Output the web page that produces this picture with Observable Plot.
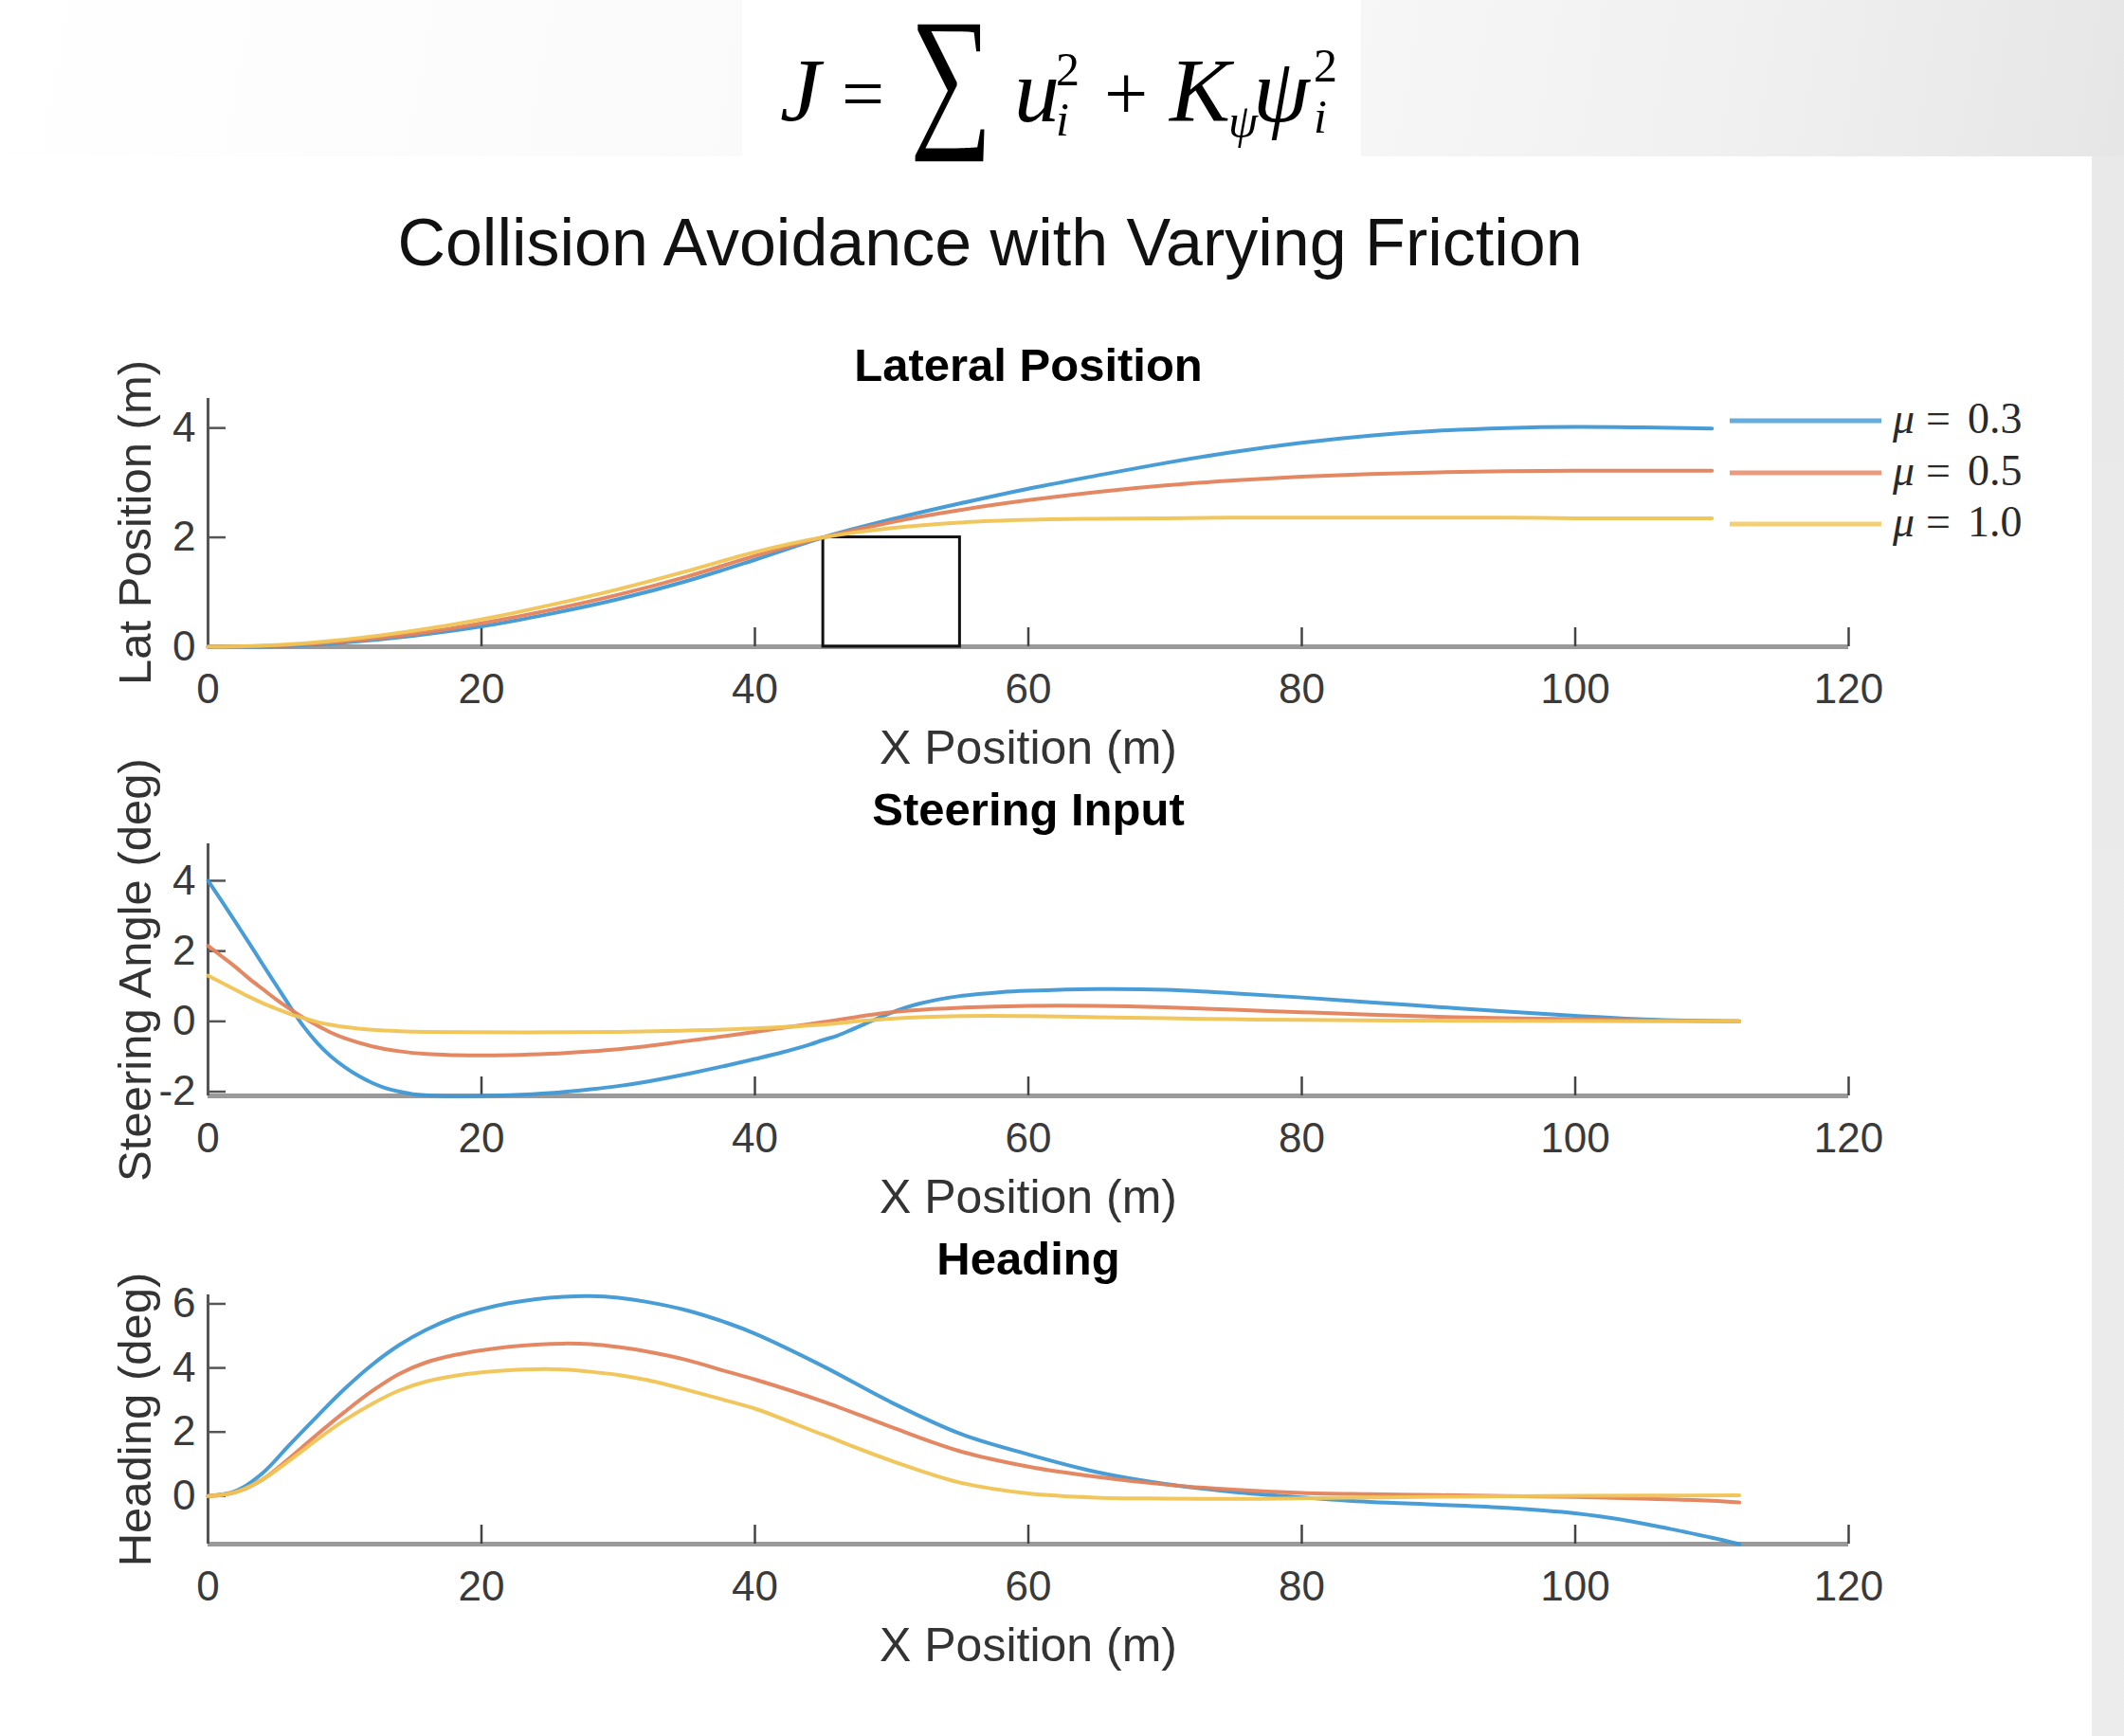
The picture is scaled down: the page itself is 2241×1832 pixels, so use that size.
<!DOCTYPE html>
<html>
<head>
<meta charset="utf-8">
<script src="https://cdn.jsdelivr.net/npm/d3@7"></script>
<script src="https://cdn.jsdelivr.net/npm/@observablehq/plot@0.6"></script>
<style>
  html, body { margin: 0; padding: 0; background: #fff; }
  #page { position: relative; width: 2241px; height: 1832px; overflow: hidden; background: #fff; }
  .bg { position: absolute; }
  .panel { position: absolute; left: 0; }
  .panel svg { overflow: visible; background: transparent; }
  #overlay { position: absolute; left: 0; top: 0; pointer-events: none; }
</style>
</head>
<body>
<div id="page">
  <div class="bg" style="left:0;top:0;width:2241px;height:165px;background:linear-gradient(100deg,#ffffff 0%,#fbfbfb 30%,#f7f7f7 62%,#f0f0f0 82%,#e6e6e6 100%);"></div>
  <div class="bg" style="left:783px;top:0;width:653px;height:165px;background:#fff;"></div>
  <div class="bg" style="left:2207px;top:165px;width:34px;height:1667px;background:linear-gradient(180deg,#e9e9e9,#ececec);"></div>
  <div class="panel" id="p1" style="top:340px"></div>
  <div class="panel" id="p2" style="top:820px"></div>
  <div class="panel" id="p3" style="top:1290px"></div>
  <svg id="overlay" width="2241" height="1832" xmlns="http://www.w3.org/2000/svg">
    <g font-family="'Liberation Serif','Times New Roman',serif" fill="#000">
      <text x="823" y="128" font-size="96" font-style="italic">J</text>
      <text x="888" y="126" font-size="80">=</text>
      <g transform="translate(960,135) scale(1.67)"><text x="0" y="0" font-size="100" textLength="52" lengthAdjust="spacingAndGlyphs">∑</text></g>
      <text x="1070" y="128" font-size="96" font-style="italic">u</text>
      <text x="1114" y="90" font-size="50">2</text>
      <text x="1114" y="143" font-size="50" font-style="italic">i</text>
      <text x="1165" y="126" font-size="82">+</text>
      <text x="1234" y="128" font-size="96" font-style="italic">K</text>
      <text x="1296" y="145" font-size="50" font-style="italic">ψ</text>
      <text x="1322" y="128" font-size="96" font-style="italic">ψ</text>
      <text x="1386" y="86" font-size="50">2</text>
      <text x="1386" y="140" font-size="50" font-style="italic">i</text>
    </g>
    <text x="1044.5" y="280" text-anchor="middle" font-family="'Liberation Sans',Arial,sans-serif" font-size="70" fill="#111">Collision Avoidance with Varying Friction</text>
    <g id="legend"></g>
  </svg>
</div>
<script>
// ---------- data ----------
const seriesNames = ["μ = 0.3", "μ = 0.5", "μ = 1.0"];
const seriesNumbers = ["0.3", "0.5", "1.0"];
const seriesColors = ["#3f98d4", "#e3825c", "#f0c454"];
const xTicks = [0, 20, 40, 60, 80, 100, 120];

// Lateral position (m)
const latX = [0, 5, 10, 15, 20, 25, 30, 35, 40, 45, 50, 55, 60, 65, 70, 75, 80, 85, 90, 95, 100, 105, 110];
const latMu03 = [0, 0.01, 0.08, 0.2, 0.37, 0.6, 0.87, 1.2, 1.59, 2.0, 2.33, 2.62, 2.89, 3.13, 3.36, 3.56, 3.73, 3.86, 3.95, 4.0, 4.02, 4.01, 3.99];
const latMu05 = [0, 0.02, 0.1, 0.23, 0.43, 0.67, 0.95, 1.28, 1.66, 2.0, 2.28, 2.5, 2.68, 2.83, 2.95, 3.04, 3.11, 3.16, 3.19, 3.21, 3.22, 3.22, 3.22];
const latMu10 = [0, 0.03, 0.13, 0.29, 0.5, 0.76, 1.05, 1.38, 1.73, 2.0, 2.17, 2.27, 2.32, 2.34, 2.35, 2.36, 2.36, 2.36, 2.36, 2.36, 2.35, 2.35, 2.35];
const latYTicks = [0, 2, 4];
const latYDomain = [0, 4.54];
const obstacleX = [45, 55];
const obstacleY = [0, 2];

// Steering angle (deg)
const steerX03 = [0,1,2,3,4,5,6,7,8,9,10,11,12,13,14,15,17,20,22,25,28,30,32,35,38,40,42,44,45,46,47,48,50,52,55,58,60,65,70,75,80,85,90,95,100,105,110,112];
const steerMu03 = [4.0,3.42,2.83,2.23,1.62,1.02,0.42,-0.15,-0.62,-1.0,-1.3,-1.55,-1.75,-1.9,-2.0,-2.07,-2.12,-2.12,-2.1,-2.04,-1.93,-1.84,-1.72,-1.5,-1.25,-1.07,-0.88,-0.66,-0.53,-0.41,-0.25,-0.08,0.25,0.5,0.72,0.83,0.87,0.92,0.9,0.8,0.68,0.54,0.41,0.28,0.16,0.06,0.01,0.0];
const steerX05 = [0,1,2,3,4,5,6,7,8,9,10,12,14,16,18,20,22,25,28,30,32,35,38,40,43,45,48,50,53,55,60,65,70,75,80,85,90,95,100,105,110,112];
const steerMu05 = [2.15,1.85,1.55,1.22,0.92,0.62,0.35,0.1,-0.12,-0.32,-0.48,-0.71,-0.85,-0.93,-0.96,-0.97,-0.96,-0.92,-0.85,-0.79,-0.71,-0.56,-0.41,-0.3,-0.13,-0.02,0.16,0.26,0.35,0.39,0.44,0.44,0.4,0.33,0.26,0.19,0.13,0.09,0.06,0.03,0.01,0.0];
const steerX10 = [0,1,2,3,4,5,6,7,8,9,10,12,14,16,20,25,30,35,40,45,48,50,55,60,65,70,75,80,90,100,112];
const steerMu10 = [1.3,1.1,0.9,0.7,0.52,0.36,0.21,0.09,-0.02,-0.1,-0.16,-0.24,-0.28,-0.3,-0.31,-0.31,-0.3,-0.26,-0.2,-0.09,0.02,0.08,0.15,0.15,0.12,0.09,0.06,0.04,0.02,0.01,0.0];
const steerYTicks = [-2, 0, 2, 4];
const steerYDomain = [-2.12, 5.05];

// Heading (deg)
const headX03 = [0,2,4,6,8,10,12,14,16,18,20,22,24,26,28,30,32,35,38,40,45,50,55,60,65,70,75,80,85,90,95,100,104,107,110,112];
const headMu03 = [0,0.15,0.72,1.62,2.5,3.35,4.1,4.72,5.2,5.57,5.83,6.02,6.15,6.22,6.24,6.19,6.07,5.8,5.4,5.07,4.05,2.92,1.95,1.3,0.75,0.38,0.13,-0.04,-0.18,-0.27,-0.37,-0.54,-0.78,-1.03,-1.3,-1.5];
const headX05 = [0,2,4,6,8,10,12,14,16,18,20,22,24,26,28,30,32,35,38,40,45,50,55,60,65,70,75,80,85,90,95,100,105,110,112];
const headMu05 = [0,0.12,0.52,1.2,1.93,2.63,3.28,3.82,4.18,4.4,4.55,4.66,4.73,4.76,4.74,4.65,4.52,4.25,3.88,3.64,2.95,2.15,1.4,0.92,0.6,0.36,0.2,0.1,0.06,0.03,0.0,-0.03,-0.08,-0.15,-0.2];
const headX10 = [0,2,4,6,8,10,12,14,16,18,20,22,24,26,28,30,32,35,38,40,45,50,55,60,65,70,77,82,86,90,100,112];
const headMu10 = [0,0.12,0.52,1.12,1.77,2.37,2.88,3.3,3.58,3.75,3.86,3.93,3.96,3.95,3.88,3.78,3.63,3.32,2.97,2.73,1.91,1.1,0.42,0.08,-0.05,-0.08,-0.09,-0.06,-0.04,-0.02,0.01,0.02];
const headYTicks = [0, 2, 4, 6];
const headYDomain = [-1.5, 6.28];

// ---------- build ----------
const FONT = "'Liberation Sans', Arial, Helvetica, sans-serif";
function rows(pairs) {
  const out = [];
  pairs.forEach(([xs, ys], i) => xs.forEach((x, j) => out.push({x, y: ys[j], series: seriesNames[i]})));
  return out;
}
const W = 2241, ML = 219, MR = 291, FW = W - ML - MR;
const fmt = d => String(d);

function panel({data, yDomain, yTicks, title, ylabel, height, mt, mb, titleDy, extra = []}) {
  const FH = height - mt - mb;
  return Plot.plot({
    width: W, height, marginLeft: ML, marginRight: MR, marginTop: mt, marginBottom: mb,
    x: {domain: [0, 120], axis: null},
    y: {domain: yDomain, axis: null},
    color: {domain: seriesNames, range: seriesColors},
    style: {fontFamily: FONT, background: "transparent", overflow: "visible"},
    marks: [
      Plot.ruleY([yDomain[0]], {stroke: "#9a9a9a", strokeWidth: 5}),
      Plot.ruleX([0], {stroke: "#555", strokeWidth: 3}),
      Plot.ruleX(xTicks.slice(1), {stroke: "#444", strokeWidth: 2.5, insetTop: FH - 20}),
      Plot.ruleY(yTicks, {stroke: "#555", strokeWidth: 2.5, insetRight: FW - 19}),
      Plot.axisX(xTicks, {tickSize: 0, tickPadding: 28, fontSize: 44, color: "#3a3a3a", label: null, tickFormat: fmt}),
      Plot.axisY(yTicks, {tickSize: 0, tickPadding: 13, fontSize: 44, color: "#3a3a3a", label: null, tickFormat: fmt}),
      ...extra,
      Plot.line(data, {x: "x", y: "y", z: "series", stroke: "series", strokeWidth: 4, curve: "catmull-rom", strokeOpacity: 0.95}),
      Plot.text([title], {frameAnchor: "top", dy: titleDy, fontWeight: "bold", fontSize: 49, fill: "#000", lineAnchor: "middle"}),
      Plot.text([ylabel], {frameAnchor: "left", dx: -76, rotate: -90, fontSize: 49, textAnchor: "middle", lineAnchor: "middle", fill: "#333"}),
      Plot.text(["X Position (m)"], {frameAnchor: "bottom", dy: 107, fontSize: 50, lineAnchor: "middle", fill: "#333"})
    ]
  });
}

const obstacle = [{x1: obstacleX[0], x2: obstacleX[1], y1: obstacleY[0], y2: obstacleY[1]}];

document.getElementById("p1").appendChild(panel({
  data: rows([[latX, latMu03], [latX, latMu05], [latX, latMu10]]),
  yDomain: latYDomain, yTicks: latYTicks, title: "Lateral Position", ylabel: "Lat Position (m)",
  height: 480, mt: 80, mb: 138, titleDy: -34,
  extra: [Plot.rect(obstacle, {x1: "x1", x2: "x2", y1: "y1", y2: "y2", fill: "none", stroke: "#111", strokeWidth: 3})]
}));
document.getElementById("p2").appendChild(panel({
  data: rows([[steerX03, steerMu03], [steerX05, steerMu05], [steerX10, steerMu10]]),
  yDomain: steerYDomain, yTicks: steerYTicks, title: "Steering Input", ylabel: "Steering Angle (deg)",
  height: 480, mt: 70, mb: 144, titleDy: -35
}));
document.getElementById("p3").appendChild(panel({
  data: rows([[headX03, headMu03], [headX05, headMu05], [headX10, headMu10]]),
  yDomain: headYDomain, yTicks: headYTicks, title: "Heading", ylabel: "Heading (deg)",
  height: 542, mt: 76, mb: 203, titleDy: -37
}));

// legend (SVG overlay)
const NS = "http://www.w3.org/2000/svg";
const leg = document.getElementById("legend");
const legY = [444, 499, 553];
seriesNames.forEach((name, i) => {
  const ln = document.createElementNS(NS, "line");
  ln.setAttribute("x1", 1825); ln.setAttribute("x2", 1985);
  ln.setAttribute("y1", legY[i]); ln.setAttribute("y2", legY[i]);
  ln.setAttribute("stroke", seriesColors[i]); ln.setAttribute("stroke-width", 5); ln.setAttribute("stroke-opacity", 0.8);
  leg.appendChild(ln);
  const t = document.createElementNS(NS, "text");
  t.setAttribute("y", legY[i] + 13);
  t.setAttribute("font-family", "'Liberation Serif','Times New Roman',serif");
  t.setAttribute("font-size", 46); t.setAttribute("fill", "#2a2a2a");
  const a = document.createElementNS(NS, "tspan"); a.setAttribute("x", 1997); a.setAttribute("font-style", "italic"); a.textContent = "μ";
  const b = document.createElementNS(NS, "tspan"); b.setAttribute("x", 2032); b.textContent = "=";
  const c = document.createElementNS(NS, "tspan"); c.setAttribute("x", 2076); c.textContent = seriesNumbers[i];
  t.append(a, b, c);
  leg.appendChild(t);
});
</script>
</body>
</html>
